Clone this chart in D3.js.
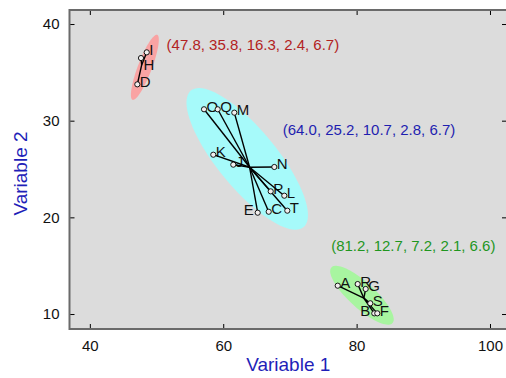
<!DOCTYPE html>
<html>
<head>
<meta charset="utf-8">
<script src="https://cdn.jsdelivr.net/npm/d3@7"></script>
<style>
  body { margin: 0; background: #fff; }
  svg { display: block; font-family: "Liberation Sans", Arial, sans-serif; }
</style>
</head>
<body>
<svg id="chart"></svg>
<script>
// observations (letter, variable 1, variable 2, cluster index)
var pointNames = ["A","B","C","D","E","F","G","H","I","J","K","L","M","N","O","P","Q","R","S","T"];
var var1 = [77.17, 82.65, 66.82, 47.12, 65.17, 83.10, 81.36, 47.67, 48.53, 61.51,
            58.51, 69.16, 61.66, 67.66, 57.12, 67.12, 59.17, 80.16, 82.05, 69.61];
var var2 = [12.93, 10.07, 20.58, 33.76, 20.48, 10.07, 12.59, 36.48, 37.07, 25.45,
            26.48, 22.24, 30.83, 25.21, 31.18, 22.69, 31.18, 13.10, 11.11, 20.69];
var clusterOf = [2, 2, 1, 0, 1, 2, 2, 0, 0, 1, 1, 1, 1, 1, 1, 1, 1, 2, 2, 1];

// cluster summaries printed next to each cluster
var clusterStats = [[47.8, 35.8, 16.3, 2.4, 6.7],
                    [64.0, 25.2, 10.7, 2.8, 6.7],
                    [81.2, 12.7, 7.2, 2.1, 6.6]];
var statsX = [64.45, 81.86, 88.5];
var statsY = [37.83, 29.04, 17.07];

// ellipses: centre and the two semi-axis vectors, in data units
var ellCx = [48.25, 63.6, 80.8];
var ellCy = [35.52, 26.05, 11.94];
var ellU = [[1.85, 3.36], [8.45, -7.06], [4.58, -2.88]];
var ellV = [[0.98, -0.26], [-3.4, -1.95], [-1.31, -0.99]];

var xTicks = [40, 60, 80, 100];
var yTicks = [10, 20, 30, 40];

var fills = ["#f9a3a3", "#a6fafa", "#a8f5a0"];
var textCols = ["#b22222", "#1f1fb0", "#1f961f"];
var labelLeft = ["E", "B"];
var labelBelow = ["H"];

var width = 506, height = 378;
var mLeft = 69.5, mRight = 507, mTop = 10, mBottom = 329;

var svg = d3.select("#chart").attr("width", width).attr("height", height);

var x = d3.scaleLinear().domain([36.95, 102.55]).range([mLeft, mRight]);
var y = d3.scaleLinear().domain([8.45, 41.45]).range([mBottom, mTop]);

svg.append("clipPath").attr("id", "clip")
  .append("rect").attr("x", mLeft).attr("y", mTop)
  .attr("width", mRight - mLeft).attr("height", mBottom - mTop);

svg.append("rect")
  .attr("x", mLeft).attr("y", mTop)
  .attr("width", mRight - mLeft).attr("height", mBottom - mTop)
  .attr("fill", "#dcdcdc");

var plot = svg.append("g").attr("clip-path", "url(#clip)");

// ellipses
var line = d3.line().x(function(d){ return x(d[0]); }).y(function(d){ return y(d[1]); });
var tSteps = d3.range(0, 361, 4);
plot.selectAll(".ell")
  .data(d3.range(3))
  .enter().append("path")
  .attr("class", "ell")
  .attr("d", function(k){
    var p = tSteps.map(function(t){
      var a = t * Math.PI / 180;
      return [ellCx[k] + ellU[k][0]*Math.cos(a) + ellV[k][0]*Math.sin(a),
              ellCy[k] + ellU[k][1]*Math.cos(a) + ellV[k][1]*Math.sin(a)];
    });
    return line(p) + "Z";
  })
  .attr("fill", function(k){ return fills[k]; });

var pts = pointNames.map(function(n, i){
  return { name: n, x: var1[i], y: var2[i], c: clusterOf[i] };
});
var centres = d3.range(3).map(function(k){
  var g = pts.filter(function(p){ return p.c === k; });
  return [d3.mean(g, function(p){ return p.x; }), d3.mean(g, function(p){ return p.y; })];
});

// point letters
plot.selectAll(".lab")
  .data(pts)
  .enter().append("text")
  .attr("class", "lab")
  .attr("x", function(d){ return labelLeft.indexOf(d.name) >= 0 ? x(d.x) - 4 : x(d.x) + 2.5; })
  .attr("y", function(d){ return labelBelow.indexOf(d.name) >= 0 ? y(d.y) + 11.5 : y(d.y) + 2.5; })
  .attr("text-anchor", function(d){ return labelLeft.indexOf(d.name) >= 0 ? "end" : "start"; })
  .attr("font-size", 15)
  .attr("fill", "#111")
  .text(function(d){ return d.name; });

// star lines
plot.selectAll(".star")
  .data(pts)
  .enter().append("line")
  .attr("x1", function(d){ return x(centres[d.c][0]); })
  .attr("y1", function(d){ return y(centres[d.c][1]); })
  .attr("x2", function(d){ return x(d.x); })
  .attr("y2", function(d){ return y(d.y); })
  .attr("stroke", "#000")
  .attr("stroke-width", 1.4);

plot.selectAll(".pt")
  .data(pts)
  .enter().append("circle")
  .attr("cx", function(d){ return x(d.x); })
  .attr("cy", function(d){ return y(d.y); })
  .attr("r", 2.6)
  .attr("fill", "#f2eeee")
  .attr("stroke", "#000")
  .attr("stroke-width", 0.9);

// cluster summaries
plot.selectAll(".stat")
  .data(clusterStats)
  .enter().append("text")
  .attr("x", function(d, i){ return x(statsX[i]); })
  .attr("y", function(d, i){ return y(statsY[i]); })
  .attr("dy", "0.35em")
  .attr("text-anchor", "middle")
  .attr("font-size", 15)
  .attr("fill", function(d, i){ return textCols[i]; })
  .text(function(d){ return "(" + d.map(function(v){ return v.toFixed(1); }).join(", ") + ")"; });

// axes with inward ticks on all sides
function styleAxis(g){
  g.select(".domain").remove();
  g.selectAll(".tick line").attr("stroke", "#000");
  g.selectAll(".tick text").attr("font-size", 15).attr("fill", "#111")
    .attr("font-family", "Liberation Sans, Arial, sans-serif");
}
svg.append("g").attr("transform", "translate(0," + mBottom + ")")
  .call(d3.axisBottom(x).tickValues(xTicks).tickSizeInner(-5).tickSizeOuter(0).tickPadding(11))
  .call(styleAxis);
svg.append("g").attr("transform", "translate(0," + mTop + ")")
  .call(d3.axisTop(x).tickValues(xTicks).tickSizeInner(-5).tickSizeOuter(0).tickFormat(""))
  .call(styleAxis);
svg.append("g").attr("transform", "translate(" + mLeft + ",0)")
  .call(d3.axisLeft(y).tickValues(yTicks).tickSizeInner(-5).tickSizeOuter(0).tickPadding(10))
  .call(styleAxis);
svg.append("g").attr("transform", "translate(" + mRight + ",0)")
  .call(d3.axisRight(y).tickValues(yTicks).tickSizeInner(-5).tickSizeOuter(0).tickFormat(""))
  .call(styleAxis);

// frame
svg.append("path")
  .attr("d", "M" + mRight + "," + mTop + "H" + mLeft + "V" + mBottom + "H" + mRight)
  .attr("fill", "none").attr("stroke", "#6a6a6a").attr("stroke-width", 2);

svg.append("text")
  .attr("x", (mLeft + mRight) / 2).attr("y", 371)
  .attr("text-anchor", "middle").attr("font-size", 19).attr("fill", "#1f1fb8")
  .text("Variable 1");
svg.append("text")
  .attr("transform", "translate(27," + ((mTop + mBottom) / 2 + 4) + ") rotate(-90)")
  .attr("text-anchor", "middle").attr("font-size", 19).attr("fill", "#1f1fb8")
  .text("Variable 2");
</script>
</body>
</html>
